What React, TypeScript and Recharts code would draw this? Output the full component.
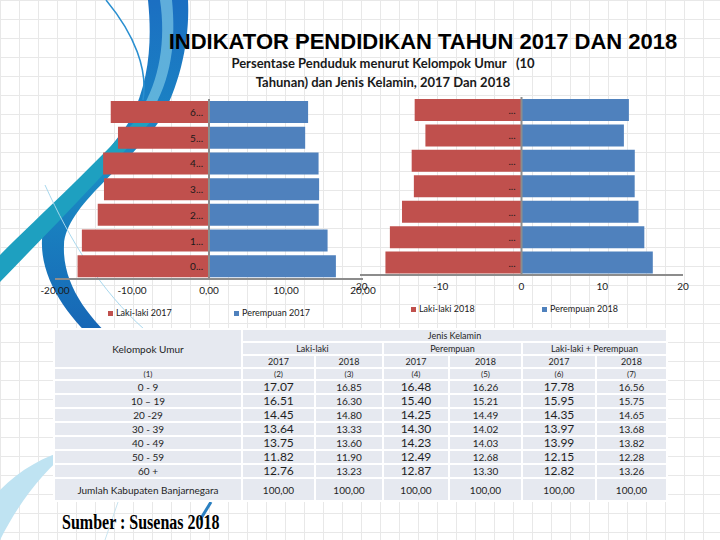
import React from 'react';
import { BarChart, Bar, XAxis, YAxis, ReferenceLine, LabelList } from 'recharts';

// age groups, bottom row of the pyramid first
const groups = ['0 - 9', '10 – 19', '20 -29', '30 - 39', '40 - 49', '50 - 59', '60 +'];

// percentages (Susenas)
const male2017 = [17.07, 16.51, 14.45, 13.64, 13.75, 11.82, 12.76];
const male2018 = [16.85, 16.3, 14.8, 13.33, 13.6, 11.9, 13.23];
const female2017 = [16.48, 15.4, 14.25, 14.3, 14.23, 12.49, 12.87];
const female2018 = [16.26, 15.21, 14.49, 14.02, 14.03, 12.68, 13.3];
const total2017 = [17.78, 15.95, 14.35, 13.97, 13.99, 12.15, 12.82];
const total2018 = [16.56, 15.75, 14.65, 13.68, 13.82, 12.28, 13.26];
const columnTotals = [100, 100, 100, 100, 100, 100];

const xTicks = [-20, -10, 0, 10, 20];
const names2017 = ['Laki-laki 2017', 'Perempuan 2017'];
const names2018 = ['Laki-laki 2018', 'Perempuan 2018'];
const yearHeads = ['2017', '2018', '2017', '2018', '2017', '2018'];
const colNumbers = ['(1)', '(2)', '(3)', '(4)', '(5)', '(6)', '(7)'];

const RED = '#C0504D';
const BLUE = '#4F81BD';
const AXIS = '#8c8c8c';
const CELL = '#e6e9f0';
const FONT = 'Lato, "Open Sans", sans-serif';

// pyramid: males drawn negative, top row = oldest group
function pyramidData(male: number[], female: number[]) {
  return groups.map((g, i) => ({ group: g, male: -male[i], female: female[i] })).reverse();
}

function groupLabel(short: boolean) {
  return (props: any) => {
    const vb = props.viewBox && props.viewBox.x !== undefined ? props.viewBox : props;
    const { x, y, width, height } = vb;
    const zero = Math.max(x, x + width);
    const text = short ? String(props.value).charAt(0) + '...' : '...';
    return (
      <text x={zero - 6} y={y + height / 2} textAnchor="end" dominantBaseline="central" fontSize={10} fill="#1a1a1a">
        {text}
      </text>
    );
  };
}

function Pyramid(props: {
  male: number[];
  female: number[];
  left: number;
  top: number;
  width: number;
  height: number;
  marginLeft: number;
  marginRight: number;
  fmt: (v: number) => string;
  shortLabels: boolean;
}) {
  const data = pyramidData(props.male, props.female);
  return (
    <div style={{ position: 'absolute', left: props.left, top: props.top, fontFamily: FONT }}>
      <BarChart
        width={props.width}
        height={props.height}
        data={data}
        layout="vertical"
        stackOffset="sign"
        margin={{ top: 9, right: props.marginRight, bottom: 0, left: props.marginLeft }}
      >
        <XAxis
          type="number"
          domain={[-20, 20]}
          ticks={xTicks}
          interval={0}
          tickFormatter={props.fmt}
          axisLine={{ stroke: AXIS, strokeWidth: 2 }}
          tickLine={false}
          tick={{ fontSize: 10, fill: '#1a1a1a' }}
          height={30}
        />
        <YAxis type="category" dataKey="group" hide />
        <Bar dataKey="male" stackId="a" fill={RED} barSize={22} isAnimationActive={false}>
          <LabelList dataKey="group" content={groupLabel(props.shortLabels)} />
        </Bar>
        <Bar dataKey="female" stackId="a" fill={BLUE} barSize={22} isAnimationActive={false} />
        <ReferenceLine x={0} stroke={AXIS} strokeWidth={2} />
      </BarChart>
    </div>
  );
}

function LegendItem({ color, label, x, y }: { color: string; label: string; x: number; y: number }) {
  return (
    <div style={{ position: 'absolute', left: x, top: y - 6, display: 'flex', alignItems: 'center', fontFamily: FONT, fontSize: 9, color: '#1a1a1a', whiteSpace: 'nowrap' }}>
      <span style={{ width: 5, height: 5, background: color, marginRight: 3 }} />
      <span style={{ lineHeight: '12px' }}>{label}</span>
    </div>
  );
}

function Swoosh() {
  return (
    <svg width={720} height={540} style={{ position: 'absolute', left: 0, top: 0 }}>
      <defs>
        <linearGradient id="sw" x1="0" y1="0" x2="0" y2="1">
          <stop offset="0" stopColor="#1b6fc2" />
          <stop offset="0.5" stopColor="#1a8cc4" />
          <stop offset="1" stopColor="#1763b4" />
        </linearGradient>
      </defs>
      <path d="M 148 0 C 152 40, 150 80, 130 120 C 100 170, 45 200, 42 240 C 40 280, 70 320, 100 345 L 120 345 C 90 320, 62 285, 64 245 C 66 205, 130 165, 160 120 C 180 85, 190 40, 188 0 Z" fill="url(#sw)" />
      <path d="M 160 0 C 166 40, 160 80, 140 112 L 150 114 C 172 80, 176 40, 172 0 Z" fill="#7cc8e6" opacity={0.7} />
      <path d="M 0 255 C 40 215, 100 160, 150 105 L 158 113 C 110 170, 50 230, 0 282 Z" fill="#1ea0c0" />
      <path d="M 106 0 C 135 35, 148 70, 143 100" stroke="#2a8fd0" strokeWidth={1.5} fill="none" />
      <path d="M 45 185 C 70 240, 100 290, 145 330" stroke="#a8d8ee" strokeWidth={1} fill="none" />
      <path d="M 0 490 C 20 470, 45 455, 70 450 C 45 470, 20 500, 0 540 Z" fill="#bfe3f2" />
      <path d="M 105 540 L 118 502" stroke="#c8e4f0" strokeWidth={1} />
      <path d="M 200 520 L 211 502" stroke="#2a7fc0" strokeWidth={3} />
    </svg>
  );
}

const td = (extra: React.CSSProperties = {}): React.CSSProperties => ({
  background: CELL,
  padding: 0,
  textAlign: 'center',
  verticalAlign: 'middle',
  lineHeight: 1,
  whiteSpace: 'nowrap',
  ...extra,
});

function DataTable() {
  const colWidths = [186, 71, 66, 64, 71, 72, 69];
  return (
    <table
      style={{
        position: 'absolute',
        left: 53,
        top: 328,
        borderCollapse: 'separate',
        borderSpacing: 2,
        tableLayout: 'fixed',
        background: '#fff',
        fontFamily: FONT,
        fontSize: 9,
        color: '#1f1f1f',
      }}
    >
      <colgroup>
        {colWidths.map((w, i) => (
          <col key={i} style={{ width: w }} />
        ))}
      </colgroup>
      <tbody>
        <tr style={{ height: 11 }}>
          <td rowSpan={3} style={td({ fontSize: 10 })}>Kelompok Umur</td>
          <td colSpan={6} style={td()}>Jenis Kelamin</td>
        </tr>
        <tr style={{ height: 11 }}>
          <td colSpan={2} style={td()}>Laki-laki</td>
          <td colSpan={2} style={td()}>Perempuan</td>
          <td colSpan={2} style={td()}>Laki-laki + Perempuan</td>
        </tr>
        <tr style={{ height: 11 }}>
          {yearHeads.map((y, i) => (
            <td key={i} style={td()}>{y}</td>
          ))}
        </tr>
        <tr style={{ height: 10 }}>
          {colNumbers.map((c, i) => (
            <td key={i} style={td({ fontSize: 8 })}>{c}</td>
          ))}
        </tr>
        {groups.map((g, i) => (
          <tr key={g} style={{ height: 12 }}>
            <td style={td({ fontSize: 10 })}>{g}</td>
            <td style={td({ fontSize: 12 })}>{male2017[i].toFixed(2)}</td>
            <td style={td({ fontSize: 10 })}>{male2018[i].toFixed(2)}</td>
            <td style={td({ fontSize: 12 })}>{female2017[i].toFixed(2)}</td>
            <td style={td({ fontSize: 10 })}>{female2018[i].toFixed(2)}</td>
            <td style={td({ fontSize: 12 })}>{total2017[i].toFixed(2)}</td>
            <td style={td({ fontSize: 10 })}>{total2018[i].toFixed(2)}</td>
          </tr>
        ))}
        <tr style={{ height: 21 }}>
          <td style={td({ fontSize: 10 })}>Jumlah Kabupaten Banjarnegara</td>
          {columnTotals.map((t, i) => (
            <td key={i} style={td({ fontSize: 10 })}>{t.toFixed(2).replace('.', ',')}</td>
          ))}
        </tr>
      </tbody>
    </table>
  );
}

export default function App() {
  return (
    <div
      style={{
        position: 'absolute',
        left: 0,
        top: 0,
        width: 720,
        height: 540,
        overflow: 'hidden',
        background: '#fff',
        backgroundImage:
          'linear-gradient(#e8e8e8 1px, transparent 1px), linear-gradient(90deg, #e8e8e8 1px, transparent 1px)',
        backgroundSize: '19px 19px',
      }}
    >
      <Swoosh />

      <div
        style={{
          position: 'absolute',
          left: 123,
          top: 29,
          width: 600,
          textAlign: 'center',
          fontFamily: '"Liberation Sans", Arial, sans-serif',
          fontWeight: 700,
          fontSize: 22,
          lineHeight: '26px',
          color: '#000',
        }}
      >
        INDIKATOR PENDIDIKAN TAHUN 2017 DAN 2018
      </div>
      <div
        style={{
          position: 'absolute',
          left: 183,
          top: 54,
          width: 400,
          textAlign: 'center',
          fontFamily: FONT,
          fontWeight: 700,
          fontSize: 13,
          lineHeight: '19px',
          color: '#1a1a1a',
          whiteSpace: 'pre',
        }}
      >
        {'Persentase Penduduk menurut Kelompok Umur   (10\nTahunan) dan Jenis Kelamin, 2017 Dan 2018'}
      </div>

      <Pyramid
        male={male2017}
        female={female2017}
        left={0}
        top={90}
        width={380}
        height={219}
        marginLeft={55}
        marginRight={17}
        fmt={(v) => v.toFixed(2).replace('.', ',')}
        shortLabels={true}
      />
      <Pyramid
        male={male2018}
        female={female2018}
        left={340}
        top={88}
        width={370}
        height={217}
        marginLeft={20}
        marginRight={27}
        fmt={(v) => String(v)}
        shortLabels={false}
      />

      <LegendItem color={RED} label={names2017[0]} x={108} y={313} />
      <LegendItem color={BLUE} label={names2017[1]} x={234} y={313} />
      <LegendItem color={RED} label={names2018[0]} x={411} y={309} />
      <LegendItem color={BLUE} label={names2018[1]} x={542} y={309} />

      <DataTable />

      <div
        style={{
          position: 'absolute',
          left: 62,
          top: 510,
          fontFamily: '"Liberation Serif", "DejaVu Serif", serif',
          fontWeight: 700,
          fontSize: 20,
          lineHeight: '24px',
          color: '#000',
          whiteSpace: 'nowrap',
          transform: 'scaleX(0.8)',
          transformOrigin: 'left center',
        }}
      >
        Sumber : Susenas 2018
      </div>
    </div>
  );
}
